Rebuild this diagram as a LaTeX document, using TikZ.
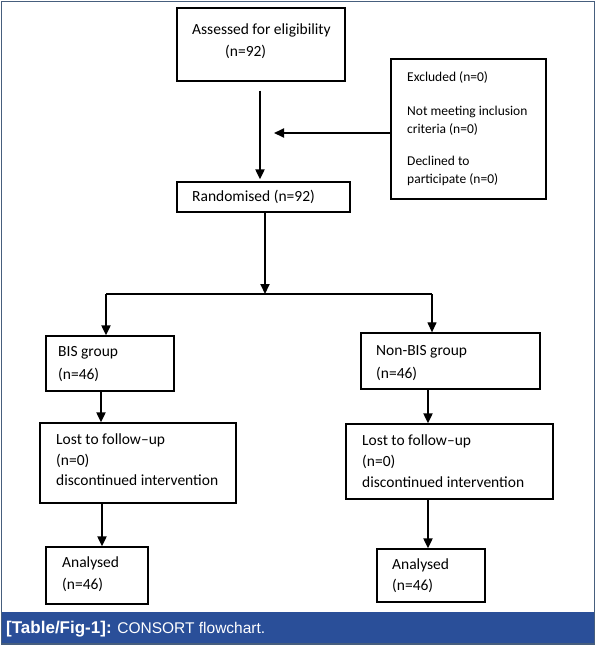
\documentclass[tikz,border=0pt]{standalone}
\usepackage{fontspec}
\setmainfont{Carlito}
\newfontfamily\capfont{Liberation Sans}
\usetikzlibrary{arrows.meta,fit}
\definecolor{framecol}{RGB}{70,94,125}
\definecolor{capblue}{RGB}{42,79,153}
\begin{document}
\begin{tikzpicture}[x=1pt,y=-1pt,
  box/.style={draw, line width=1.3pt, inner sep=0pt},
  txt/.style={anchor=mid west, inner sep=0pt, font=\fontsize{15.5}{18}\selectfont},
  stxt/.style={anchor=mid west, inner sep=0pt, font=\fontsize{13.5}{16}\selectfont},
  arr/.style={-{Triangle[length=10pt,width=9pt]}, line width=2pt},
  thinarr/.style={-{Triangle[length=10pt,width=9pt]}, line width=1.2pt}]
\useasboundingbox (0,0) rectangle (597,645);
\fill[white] (0,0) rectangle (597,645);
% caption
\node[fit={(2,612) (594,644)}, inner sep=0pt, fill=capblue] (capbar) {};
\node[anchor=west, inner sep=0pt, text=white, font=\capfont\fontsize{15.5}{18}\selectfont] (cap) at (6,629) {{\fontsize{17}{18}\selectfont\bfseries [Table/Fig-1]:} CONSORT flowchart.};
\draw[framecol, line width=1.5pt] (1.5,1.5) rectangle (594.5,644);
% boxes
\node[box, fit={(177,8) (345,81)}] (assess) {};
\node[txt] (ta1) at (192,32) {Assessed for eligibility};
\node[txt] (ta2) at (225,54) {(n=92)};
\node[box, fit={(391,59) (546,199)}] (excl) {};
\node[stxt] (te1) at (407,79) {Excluded (n=0)};
\node[stxt] (te2) at (407,113) {Not meeting inclusion};
\node[stxt] (te3) at (407,131) {criteria (n=0)};
\node[stxt] (te4) at (407,163) {Declined to};
\node[stxt] (te5) at (407,181) {participate (n=0)};
\node[box, fit={(177,182) (350,212)}] (rand) {};
\node[txt] (tr1) at (192,199) {Randomised (n=92)};
\node[box, fit={(46,336) (174,391)}] (bis) {};
\node[txt] (tb1) at (58,354) {BIS group};
\node[txt] (tb2) at (58,377) {(n=46)};
\node[box, fit={(361,333) (540,389)}] (nonbis) {};
\node[txt] (tn1) at (376,353) {Non-BIS group};
\node[txt] (tn2) at (376,376) {(n=46)};
\node[box, fit={(40,423) (236,503)}] (lostl) {};
\node[txt] (tl1) at (56,442) {Lost to follow--up};
\node[txt] (tl2) at (56,463) {(n=0)};
\node[txt] (tl3) at (56,483) {discontinued intervention};
\node[box, fit={(346,424) (553,499)}] (lostr) {};
\node[txt] (tm1) at (362,443) {Lost to follow--up};
\node[txt] (tm2) at (362,464) {(n=0)};
\node[txt] (tm3) at (362,485) {discontinued intervention};
\node[box, fit={(46,547) (148,604)}] (anl) {};
\node[txt] (tq1) at (62,565) {Analysed};
\node[txt] (tq2) at (62,587) {(n=46)};
\node[box, fit={(377,549) (485,602)}] (anr) {};
\node[txt] (tp1) at (392,567) {Analysed};
\node[txt] (tp2) at (392,588) {(n=46)};
% connectors
\draw[arr, shorten <=9pt, shorten >=2pt] ([xshift=-1pt]assess.south) -- ([xshift=-1pt]assess.south |- rand.north);
\draw[arr, shorten >=13pt] ([yshift=-4pt]excl.west) -- ([yshift=-4pt]excl.west -| assess.south);
\coordinate (bl) at (106,294);
\coordinate (brr) at (432,294);
\draw[arr] ([xshift=1.5pt]rand.south) -- ([xshift=1.5pt]rand.south |- bl);
\draw[line width=1.2pt] (bl) -- (brr);
\draw[arr] (bl) -- (bl |- bis.north);
\draw[thinarr] (brr) -- (brr |- nonbis.north);
\draw[arr] ([xshift=-9pt]bis.south) -- ([xshift=-9pt]bis.south |- lostl.north);
\draw[arr] ([xshift=-22.5pt]nonbis.south) -- ([xshift=-22.5pt]nonbis.south |- lostr.north);
\draw[arr] ([xshift=-36pt]lostl.south) -- ([xshift=-36pt]lostl.south |- anl.north);
\draw[arr] ([xshift=-21.5pt]lostr.south) -- ([xshift=-21.5pt]lostr.south |- anr.north);
\end{tikzpicture}
\end{document}
